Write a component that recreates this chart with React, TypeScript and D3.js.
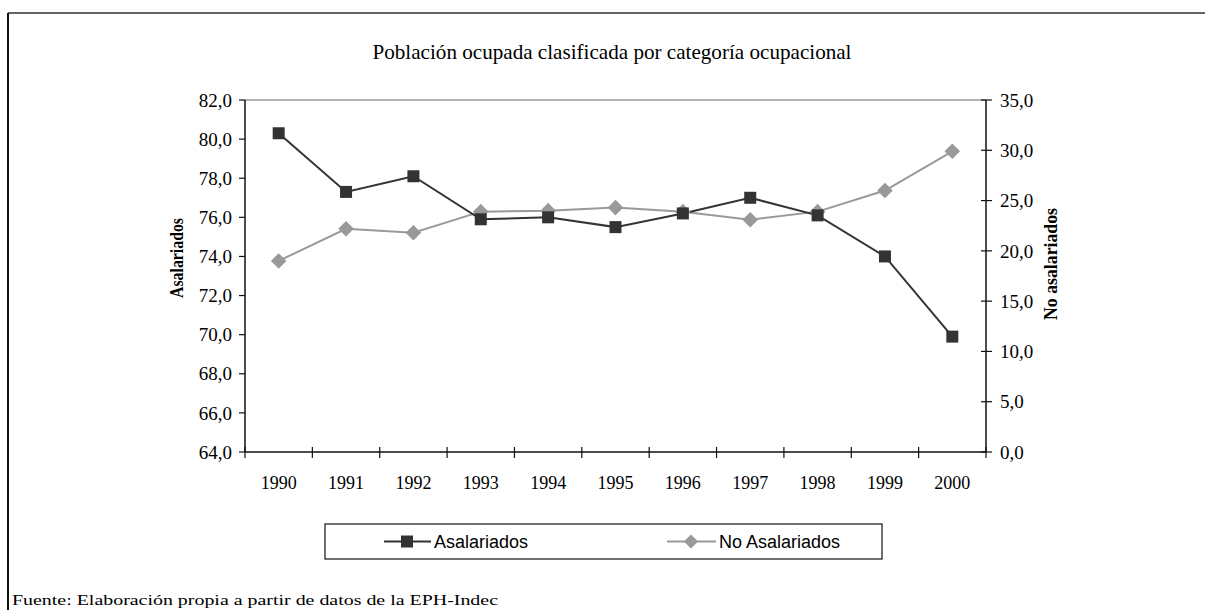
import React from "react";
import { scaleBand, scaleLinear, line } from "d3";

const years = ["1990", "1991", "1992", "1993", "1994", "1995", "1996", "1997", "1998", "1999", "2000"];
const asalariados = [80.3, 77.3, 78.1, 75.9, 76.0, 75.5, 76.2, 77.0, 76.1, 74.0, 69.9];
const noAsalariados = [19.0, 22.2, 21.8, 23.9, 24.0, 24.3, 23.9, 23.1, 23.9, 26.0, 29.9];
const leftTicks = [64, 66, 68, 70, 72, 74, 76, 78, 80, 82];
const rightTicks = [0, 5, 10, 15, 20, 25, 30, 35];

const fmt = (v: number) => v.toFixed(1).replace(".", ",");

export default function App() {
  const width = 1205;
  const height = 610;
  const margin = { top: 100, right: 219, bottom: 158, left: 245 };
  const innerWidth = width - margin.left - margin.right;
  const innerHeight = height - margin.top - margin.bottom;

  const xScale = scaleBand().domain(years).range([0, innerWidth]);
  const yLeft = scaleLinear().domain([64, 82]).range([innerHeight, 0]);
  const yRight = scaleLinear().domain([0, 35]).range([innerHeight, 0]);
  const cx = (y: string) => (xScale(y) ?? 0) + xScale.bandwidth() / 2;

  const asalLine = line<number>()
    .x((_, i) => cx(years[i]))
    .y((d) => yLeft(d));
  const noLine = line<number>()
    .x((_, i) => cx(years[i]))
    .y((d) => yRight(d));

  const serif = "'Liberation Serif', 'DejaVu Serif', serif";
  const sans = "'Liberation Sans', Arial, sans-serif";

  return (
    <svg
      width={width}
      height={height}
      style={{ position: "absolute", left: 0, top: 0, background: "#fff" }}
    >
      {/* frame */}
      <line x1={8} y1={13} x2={width} y2={13} stroke="#666" strokeWidth={2} />
      <line x1={8} y1={13} x2={8} y2={height} stroke="#111" strokeWidth={2} />

      <text
        x={612}
        y={59}
        textAnchor="middle"
        fontFamily={serif}
        fontSize={22}
        textLength={479}
        lengthAdjust="spacingAndGlyphs"
      >
        Población ocupada clasificada por categoría ocupacional
      </text>

      <g transform={`translate(${margin.left},${margin.top})`}>
        <line x1={0} y1={0} x2={innerWidth} y2={0} stroke="#999" strokeWidth={1.5} />

        {/* left axis */}
        <line x1={0} y1={0} x2={0} y2={innerHeight} stroke="#111" strokeWidth={1.5} />
        {leftTicks.map((t) => (
          <g key={t} transform={`translate(0,${yLeft(t)})`}>
            <line x1={-6} x2={0} stroke="#111" strokeWidth={1.2} />
            <text x={-13} dy="0.35em" textAnchor="end" fontFamily={serif} fontSize={19}>
              {fmt(t)}
            </text>
          </g>
        ))}

        {/* right axis */}
        <line x1={innerWidth} y1={0} x2={innerWidth} y2={innerHeight} stroke="#111" strokeWidth={1.5} />
        {rightTicks.map((t) => (
          <g key={t} transform={`translate(${innerWidth},${yRight(t)})`}>
            <line x1={-5} x2={6} stroke="#111" strokeWidth={1.2} />
            <text x={14} dy="0.35em" textAnchor="start" fontFamily={serif} fontSize={19}>
              {fmt(t)}
            </text>
          </g>
        ))}

        {/* bottom axis */}
        <line x1={0} y1={innerHeight} x2={innerWidth} y2={innerHeight} stroke="#111" strokeWidth={1.5} />
        {years.map((y, i) => (
          <g key={y}>
            <line
              x1={xScale(y) ?? 0}
              x2={xScale(y) ?? 0}
              y1={innerHeight - 5}
              y2={innerHeight + 6}
              stroke="#111"
              strokeWidth={1.2}
            />
            {i === years.length - 1 && (
              <line
                x1={innerWidth}
                x2={innerWidth}
                y1={innerHeight - 5}
                y2={innerHeight + 6}
                stroke="#111"
                strokeWidth={1.2}
              />
            )}
            <text x={cx(y)} y={innerHeight + 37} textAnchor="middle" fontFamily={serif} fontSize={18}>
              {y}
            </text>
          </g>
        ))}

        {/* series */}
        <path d={noLine(noAsalariados) ?? ""} fill="none" stroke="#999" strokeWidth={2} />
        <path d={asalLine(asalariados) ?? ""} fill="none" stroke="#333" strokeWidth={2} />
        {noAsalariados.map((v, i) => (
          <rect
            key={i}
            x={-5.5}
            y={-5.5}
            width={11}
            height={11}
            fill="#999"
            transform={`translate(${cx(years[i])},${yRight(v)}) rotate(45)`}
          />
        ))}
        {asalariados.map((v, i) => (
          <rect
            key={i}
            x={cx(years[i]) - 6}
            y={yLeft(v) - 6}
            width={12}
            height={12}
            fill="#333"
          />
        ))}
      </g>

      {/* axis titles */}
      <text
        transform="translate(183,258) rotate(-90)"
        textAnchor="middle"
        fontFamily={serif}
        fontWeight="bold"
        fontSize={18}
        textLength={80}
        lengthAdjust="spacingAndGlyphs"
      >
        Asalariados
      </text>
      <text
        transform="translate(1057,264) rotate(-90)"
        textAnchor="middle"
        fontFamily={serif}
        fontWeight="bold"
        fontSize={18}
        textLength={112}
        lengthAdjust="spacingAndGlyphs"
      >
        No asalariados
      </text>

      {/* legend */}
      <rect x={325} y={524} width={557} height={35} fill="#fff" stroke="#111" strokeWidth={1.2} />
      <line x1={384} x2={431} y1={541.5} y2={541.5} stroke="#333" strokeWidth={2} />
      <rect x={401} y={535.5} width={12} height={12} fill="#333" />
      <text x={434} y={548} fontFamily={sans} fontSize={18}>
        Asalariados
      </text>
      <line x1={667} x2={716} y1={541.5} y2={541.5} stroke="#999" strokeWidth={2} />
      <rect
        x={-5}
        y={-5}
        width={10}
        height={10}
        fill="#999"
        transform="translate(691,541.5) rotate(45)"
      />
      <text x={719} y={548} fontFamily={sans} fontSize={18}>
        No Asalariados
      </text>

      <text
        x={12}
        y={605}
        fontFamily={serif}
        fontSize={15}
        textLength={486}
        lengthAdjust="spacingAndGlyphs"
      >
        Fuente: Elaboración propia a partir de datos de la EPH-Indec
      </text>
    </svg>
  );
}
